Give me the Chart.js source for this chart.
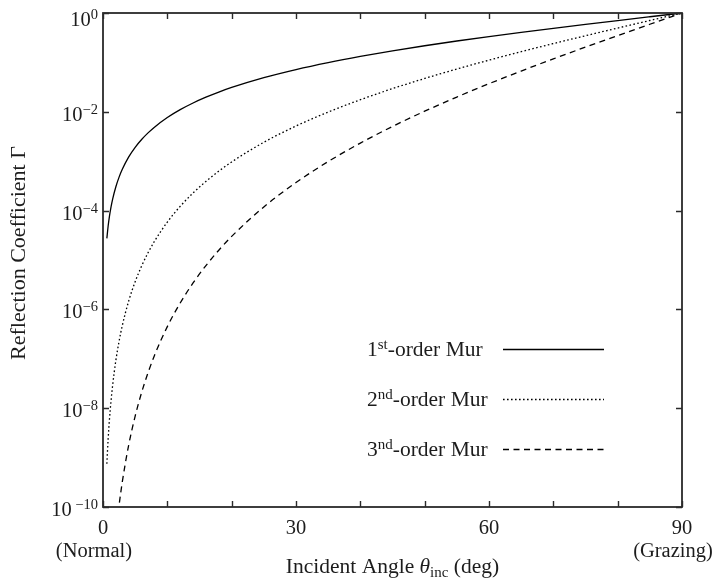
<!DOCTYPE html>
<html>
<head>
<meta charset="utf-8">
<script src="https://cdn.jsdelivr.net/npm/chart.js@4/dist/chart.umd.min.js"></script>
<style>
  html, body { margin: 0; padding: 0; background: #fff; }
  canvas { display: block; }
</style>
</head>
<body>
<canvas id="chart" width="713" height="583"></canvas>
<script>
// Incident angle (deg) and reflection coefficient of Mur absorbing boundaries
const angles = [0.6, 0.8, 1, 1.25, 1.5, 2, 2.5, 3, 4, 5, 6, 7, 8, 10, 12, 14, 16, 18, 20,
                25, 30, 35, 40, 45, 50, 55, 60, 65, 70, 75, 80, 85, 90];

const mur1st = [2.742e-5, 4.874e-5, 7.616e-5, 1.190e-4, 1.714e-4, 3.047e-4, 4.761e-4, 6.857e-4,
                1.2195e-3, 1.9063e-3, 2.7466e-3, 3.7409e-3, 4.8898e-3, 7.654e-3, 0.011047, 0.015076,
                0.019752, 0.025086, 0.031091, 0.049149, 0.071797, 0.099413, 0.13247, 0.17157,
                0.21744, 0.27099, 0.33333, 0.40586, 0.49029, 0.58879, 0.70409, 0.83966, 1];

const mur2nd = [7.516e-10, 2.376e-9, 5.800e-9, 1.416e-8, 2.937e-8, 9.283e-8, 2.266e-7, 4.702e-7,
                1.487e-6, 3.634e-6, 7.544e-6, 1.399e-5, 2.391e-5, 5.859e-5, 1.2204e-4, 2.2729e-4,
                3.9014e-4, 6.2931e-4, 9.6665e-4, 2.4156e-3, 5.1548e-3, 9.8829e-3, 0.017549, 0.029437,
                0.047281, 0.073436, 0.11111, 0.16472, 0.24039, 0.34668, 0.49574, 0.70503, 1];

const mur3rd = [null, null, null, null, null, 2.828e-11, 1.079e-10, 3.224e-10,
                1.814e-9, 6.928e-9, 2.072e-8, 5.235e-8, 1.169e-7, 4.485e-7, 1.348e-6, 3.427e-6,
                7.706e-6, 1.5787e-5, 3.0054e-5, 1.1873e-4, 3.7010e-4, 9.8249e-4, 2.3248e-3, 5.0505e-3,
                0.010281, 0.019901, 0.037037, 0.066853, 0.11786, 0.20412, 0.34905, 0.59199, 1];

// Axis ticks
const xTicks = [0, 10, 20, 30, 40, 50, 60, 70, 80, 90];
const xLabels = [0, 30, 60, 90];
const yExponents = [0, -2, -4, -6, -8, -10];

const seriesNames = [['1', 'st', '-order Mur'], ['2', 'nd', '-order Mur'], ['3', 'nd', '-order Mur']];
const seriesDash = [[], [1.6, 2.4], [6, 4.5]];

const FONT = '"Liberation Serif", "Times New Roman", serif';
const INK = '#1c1c1c';

function toPoints(vals) {
  return angles.map((a, i) => ({ x: a, y: vals[i] }));
}

// draws a run of text pieces; each piece may be raised or lowered and sized
function richText(ctx, parts, x, y, align) {
  let w = 0;
  parts.forEach(p => {
    ctx.font = (p.italic ? 'italic ' : '') + p.size + 'px ' + FONT;
    p.w = ctx.measureText(p.t).width;
    w += p.w;
  });
  let cx = align === 'right' ? x - w : align === 'center' ? x - w / 2 : x;
  ctx.textAlign = 'left';
  ctx.textBaseline = 'alphabetic';
  parts.forEach(p => {
    ctx.font = (p.italic ? 'italic ' : '') + p.size + 'px ' + FONT;
    ctx.fillText(p.t, cx, y - (p.rise || 0));
    cx += p.w;
  });
}

const framePlugin = {
  id: 'frame',
  afterDraw(chart) {
    const { ctx, chartArea: ca, scales } = chart;
    const xs = scales.x, ys = scales.y;
    ctx.save();
    ctx.fillStyle = INK;
    ctx.strokeStyle = '#2a2a2a';

    // frame
    ctx.lineWidth = 1.8;
    ctx.strokeRect(ca.left, ca.top, ca.right - ca.left, ca.bottom - ca.top);

    // inward ticks
    ctx.lineWidth = 1.4;
    const tl = 6;
    ctx.beginPath();
    xTicks.forEach(v => {
      const px = Math.round(xs.getPixelForValue(v)) + 0.5;
      ctx.moveTo(px, ca.bottom); ctx.lineTo(px, ca.bottom - tl);
      ctx.moveTo(px, ca.top); ctx.lineTo(px, ca.top + tl);
    });
    yExponents.forEach(e => {
      const py = Math.round(ys.getPixelForValue(Math.pow(10, e))) + 0.5;
      ctx.moveTo(ca.left, py); ctx.lineTo(ca.left + tl, py);
      ctx.moveTo(ca.right, py); ctx.lineTo(ca.right - tl, py);
    });
    ctx.stroke();

    // y tick labels
    yExponents.forEach(e => {
      const py = ys.getPixelForValue(Math.pow(10, e));
      const base = e === 0 ? py + 13 : py + 9;
      const expText = e === 0 ? '0' : (e === -10 ? ' ' : '') + '\u2212' + (-e);
      richText(ctx, [{ t: '10', size: 20.5 }, { t: expText, size: 14.5, rise: 7 }], 98, base, 'right');
    });

    // x tick labels
    xLabels.forEach(v => {
      const px = xs.getPixelForValue(v);
      richText(ctx, [{ t: String(v), size: 20.5 }], px, ca.bottom + 27, 'center');
    });
    richText(ctx, [{ t: '(Normal)', size: 20.5 }], xs.getPixelForValue(0) - 9, ca.bottom + 50, 'center');
    richText(ctx, [{ t: '(Grazing)', size: 20.5 }], xs.getPixelForValue(90) - 9, ca.bottom + 50, 'center');

    // axis titles
    richText(ctx, [
      { t: 'Incident Angle ', size: 21.5 },
      { t: '\u03B8', size: 21.5, italic: true },
      { t: 'inc', size: 15, rise: -4 },
      { t: ' (deg)', size: 21.5 }
    ], (ca.left + ca.right) / 2, 573, 'center');

    ctx.save();
    ctx.translate(25, 253);
    ctx.rotate(-Math.PI / 2);
    richText(ctx, [{ t: 'Reflection Coefficient \u0393', size: 22 }], 0, 0, 'center');
    ctx.restore();

    // legend
    const rows = [349, 399, 449];
    rows.forEach((ry, i) => {
      const n = seriesNames[i];
      richText(ctx, [
        { t: n[0], size: 21.5 },
        { t: n[1], size: 15, rise: 7 },
        { t: n[2], size: 21.5 }
      ], 367, ry + 7, 'left');
      ctx.beginPath();
      ctx.lineWidth = 1.3;
      ctx.strokeStyle = '#000';
      ctx.setLineDash(seriesDash[i]);
      ctx.moveTo(503, ry + 0.5);
      ctx.lineTo(604, ry + 0.5);
      ctx.stroke();
    });
    ctx.setLineDash([]);
    ctx.restore();
  }
};

const lineStyle = (dash) => ({
  borderColor: '#000',
  borderWidth: 1.3,
  borderDash: dash,
  pointRadius: 0,
  fill: false,
  cubicInterpolationMode: 'monotone'
});

new Chart(document.getElementById('chart'), {
  type: 'line',
  data: {
    datasets: [
      Object.assign({ label: '1st-order Mur', data: toPoints(mur1st) }, lineStyle(seriesDash[0])),
      Object.assign({ label: '2nd-order Mur', data: toPoints(mur2nd) }, lineStyle(seriesDash[1])),
      Object.assign({ label: '3nd-order Mur', data: toPoints(mur3rd) }, lineStyle(seriesDash[2]))
    ]
  },
  options: {
    responsive: false,
    animation: false,
    devicePixelRatio: 1,
    layout: { padding: { left: 103, right: 31, top: 13, bottom: 76 } },
    scales: {
      x: { type: 'linear', min: 0, max: 90, display: false },
      y: { type: 'logarithmic', min: 1e-10, max: 1, display: false }
    },
    plugins: {
      legend: { display: false },
      tooltip: { enabled: false }
    }
  },
  plugins: [framePlugin]
});
</script>
</body>
</html>
